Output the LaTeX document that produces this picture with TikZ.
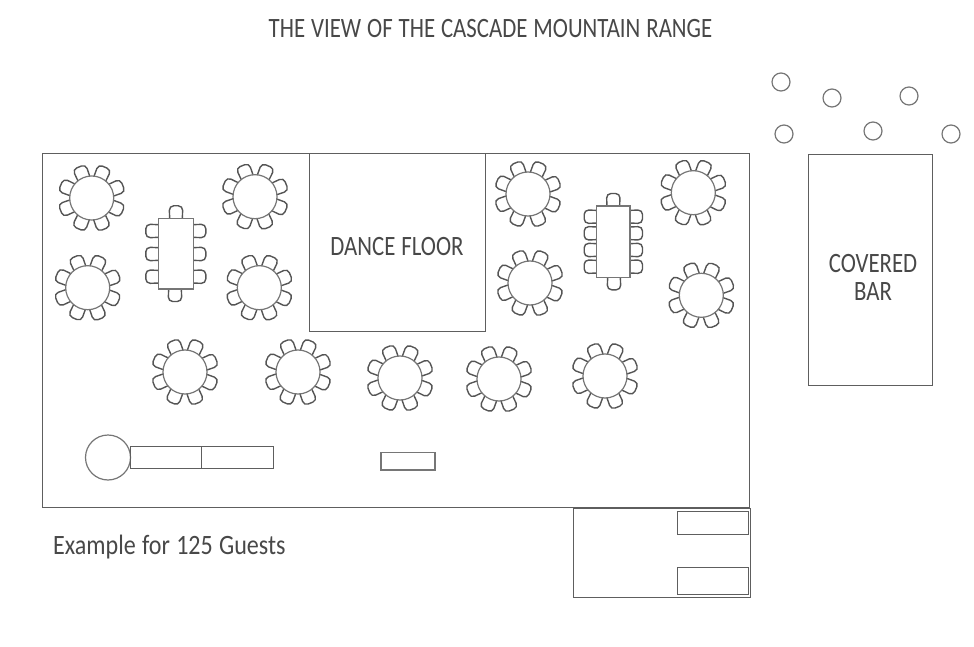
\documentclass[tikz,border=0pt]{standalone}
\usepackage{fontspec}
\setmainfont[FakeStretch=0.815,WordSpace=1.15]{Carlito}
\definecolor{ink}{HTML}{5E5E5E}
\definecolor{txt}{HTML}{484848}
\tikzset{
  x=1pt,y=-1pt,
  wall/.style={draw=ink,line width=1pt},
  thin wall/.style={draw=ink!85,line width=1.2pt},
  seat/.style={draw=ink!90!black,line width=1.4pt,rounded corners=4.5pt},
  label/.style={text=txt,inner sep=0pt,align=center,font=\fontsize{28}{28}\selectfont},
  pics/chair/.style={code={
    \draw[seat] (20,-6.3) -- (33.5,-7) -- (33.5,7) -- (20,6.3);
  }},
  pics/roundtable/.style={code={
    \foreach \a in {22,67,112,157,202,247,292,337}{
      \pic[rotate=\a] {chair};
    }
    \draw[thin wall,fill=white] (0,0) circle (22);
  }},
  pics/sidechair/.style={code={
    \draw[seat] (-1,-6.3) -- (12.5,-6.8) -- (12.5,6.8) -- (-1,6.3);
  }}
}
\begin{document}
\begin{tikzpicture}
\useasboundingbox (0,0) rectangle (974,647);
\fill[white] (0,0) rectangle (974,647);

% main hall
\draw[wall] (42.5,154) rectangle (749.5,507);
\draw[wall] (309.5,154) rectangle (485.5,331);
\draw[wall] (808.5,155) rectangle (932,385);
\draw[wall] (573.5,508) rectangle (750,597);
\draw[wall] (677,511) rectangle (748,534.5);
\draw[wall] (677,567) rectangle (748,594);

% head table and service tables
\draw[thin wall] (108,457.5) circle (22.5);
\draw[wall] (130,446) rectangle (201.5,468);
\draw[wall] (201.5,446) rectangle (273,468);
\draw[thin wall] (381,452.5) rectangle (435,470);

% round tables
\foreach \cx/\cy in {91.7/198,87.7/287.7,255/196.7,259.3/287.7,
                     528/194,530/283,693.3/192.7,701.3/295.3,
                     185/372,298/372,400/378,499/379,605/376}{
  \pic at (\cx,\cy) {roundtable};
}

% left long table
\foreach \yy in {231,254,276.7}{
  \pic[rotate=180] at (158.3,\yy) {sidechair};
  \pic at (193.3,\yy) {sidechair};
}
\pic[rotate=90] at (176,218.3) {sidechair};
\pic[rotate=-90] at (175,289) {sidechair};
\draw[thin wall,fill=white] (158.3,218.3) rectangle (193.3,289);

% right long table
\foreach \yy in {216.7,233.3,250,266.7}{
  \pic[rotate=180] at (596.7,\yy) {sidechair};
  \pic at (630,\yy) {sidechair};
}
\pic[rotate=90] at (613.3,206) {sidechair};
\pic[rotate=-90] at (614,277.3) {sidechair};
\draw[thin wall,fill=white] (596.7,206) rectangle (630,277.3);

% stools
\foreach \cx/\cy in {781/82,832/98,909/96,784/134,873/131,951/134}{
  \draw[thin wall] (\cx,\cy) circle (9);
}

% labels
\node[label] (title) at (490.5,29) {THE VIEW OF THE CASCADE MOUNTAIN RANGE};
\node[label] (dance) at (397,247) {DANCE FLOOR};
\node[label] (bar) at (873,277) {COVERED\\[0pt]BAR};
\node[label,anchor=west] (guests) at (53,547) {\scalebox{1.055}[1]{Example for 125 Guests}};
\end{tikzpicture}
\end{document}
